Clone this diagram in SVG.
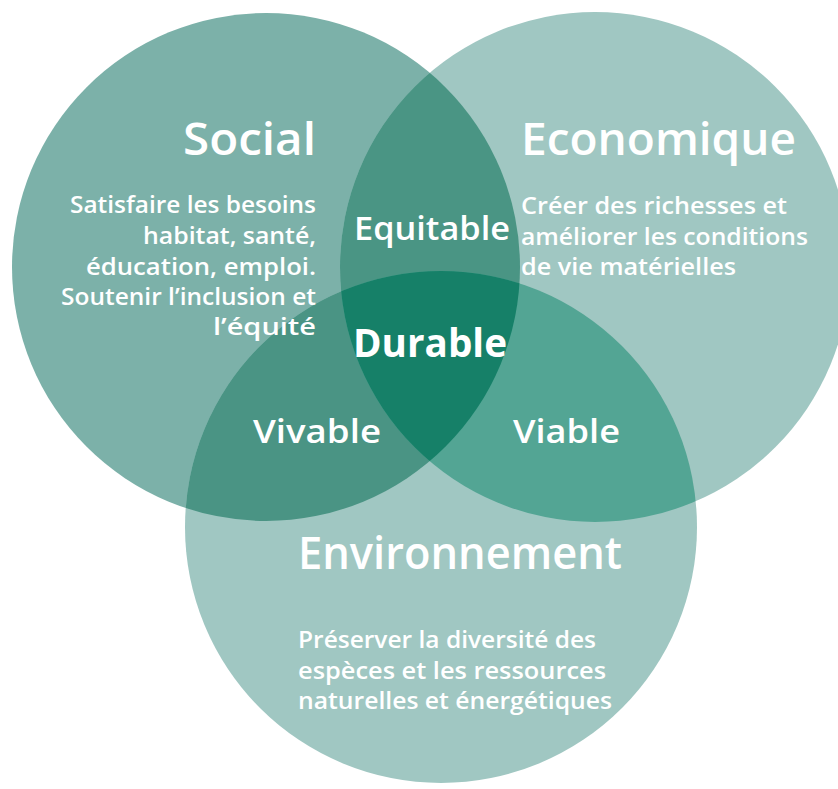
<svg xmlns="http://www.w3.org/2000/svg" width="838" height="789" viewBox="0 0 838 789">
<style>
text{font-family:"Open Sans","DejaVu Sans",sans-serif;fill:#fff;font-weight:700}
.h{font-size:45px;font-weight:600}
.b{font-size:23px;font-weight:600}
.m{font-size:32px;font-weight:600}
.r{text-anchor:end}
</style>
<defs>
<clipPath id="cs"><circle cx="266" cy="267" r="254"/></clipPath>
<clipPath id="ce"><circle cx="595" cy="267" r="255"/></clipPath>
<clipPath id="cv"><circle cx="441" cy="527" r="256"/></clipPath>
</defs>
<rect width="838" height="789" fill="#fff"/>
<g id="circles">
<g id="social-circle"><circle cx="266" cy="267" r="254" fill="#7cb1a9"/></g>
<g id="eco-circle"><circle cx="595" cy="267" r="255" fill="#a0c7c2"/></g>
<g id="env-circle"><circle cx="441" cy="527" r="256" fill="#a0c7c2"/></g>
<g id="equitable-lens" clip-path="url(#cs)"><circle cx="595" cy="267" r="255" fill="#4a9584"/></g>
<g id="vivable-lens" clip-path="url(#cs)"><circle cx="441" cy="527" r="256" fill="#4a9484"/></g>
<g id="viable-lens" clip-path="url(#ce)"><circle cx="441" cy="527" r="256" fill="#53a594"/></g>
<g id="durable-lens" clip-path="url(#cs)"><g clip-path="url(#ce)"><circle cx="441" cy="527" r="256" fill="#168068"/></g></g>
</g>
<g id="social">
<text class="h r" x="316" y="155" textLength="133" lengthAdjust="spacingAndGlyphs">Social</text>
<text class="b r" x="316" y="213" textLength="246" lengthAdjust="spacingAndGlyphs">Satisfaire les besoins</text>
<text class="b r" x="316" y="244" textLength="173" lengthAdjust="spacingAndGlyphs">habitat, santé,</text>
<text class="b r" x="316" y="275" textLength="230" lengthAdjust="spacingAndGlyphs">éducation, emploi.</text>
<text class="b r" x="316" y="305" textLength="255" lengthAdjust="spacingAndGlyphs">Soutenir l’inclusion et</text>
<text class="b r" x="316" y="335" textLength="103" lengthAdjust="spacingAndGlyphs">l’équité</text>
</g>
<g id="economique">
<text class="h" x="521" y="155" textLength="275" lengthAdjust="spacingAndGlyphs">Economique</text>
<text class="b" x="521" y="214" textLength="266" lengthAdjust="spacingAndGlyphs">Créer des richesses et</text>
<text class="b" x="521" y="245" textLength="287" lengthAdjust="spacingAndGlyphs">améliorer les conditions</text>
<text class="b" x="521" y="275" textLength="215" lengthAdjust="spacingAndGlyphs">de vie matérielles</text>
</g>
<g id="environnement">
<text class="h" x="298" y="569" textLength="324" lengthAdjust="spacingAndGlyphs">Environnement</text>
<text class="b" x="298" y="648" textLength="298" lengthAdjust="spacingAndGlyphs">Préserver la diversité des</text>
<text class="b" x="298" y="679" textLength="308" lengthAdjust="spacingAndGlyphs">espèces et les ressources</text>
<text class="b" x="298" y="709" textLength="314" lengthAdjust="spacingAndGlyphs">naturelles et énergétiques</text>
</g>
<g id="equitable"><text class="m" x="354" y="240" textLength="156" lengthAdjust="spacingAndGlyphs">Equitable</text></g>
<g id="durable"><text x="353" y="357" style="font-size:40px" textLength="154" lengthAdjust="spacingAndGlyphs">Durable</text></g>
<g id="vivable"><text class="m" x="253" y="443" textLength="128" lengthAdjust="spacingAndGlyphs">Vivable</text></g>
<g id="viable"><text class="m" x="513" y="443" textLength="107" lengthAdjust="spacingAndGlyphs">Viable</text></g>
<g id="connectors"/>
</svg>
